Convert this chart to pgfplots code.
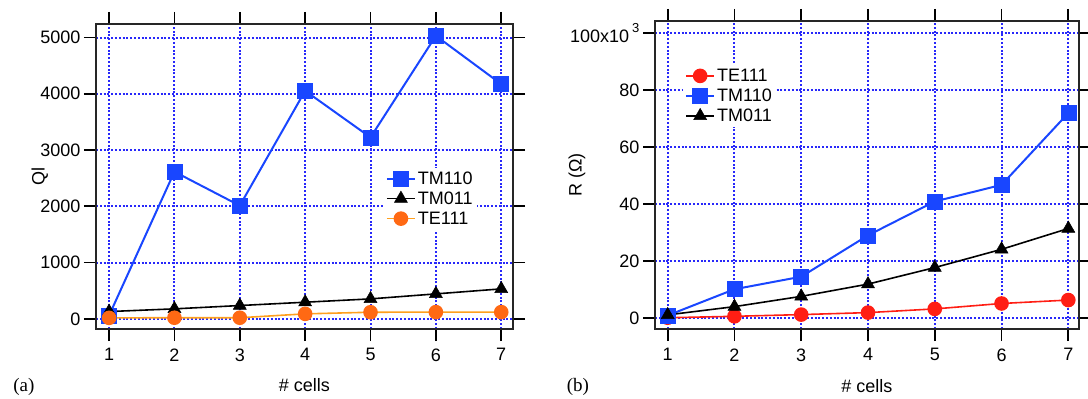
\documentclass[border=0pt]{standalone}
\usepackage{pgfplots}
\pgfplotsset{compat=1.18}
\usepackage{fontspec}
\setmainfont{Liberation Sans}
\newfontfamily\seriffont{Liberation Serif}

\definecolor{tmblue}{RGB}{25,70,255}
\definecolor{gridblue}{RGB}{40,40,250}
\definecolor{teorange}{RGB}{255,105,20}
\definecolor{teline}{RGB}{255,160,30}
\definecolor{tered}{RGB}{255,30,20}

\pgfplotsset{
  cellplot/.style={
    scale only axis,
    anchor=south west,
    xmin=0.8, xmax=7.18,
    xtick={1,...,7},
    xticklabels={1,2,3,4,5,6,7},
    scaled ticks=false,
    tick align=outside,
    xtick pos=both, ytick pos=both,
    major tick length=12pt,
    tick style={line width=1.8pt, black},
    axis line style={line width=1.4pt, black!85},
    grid=major,
    major grid style={gridblue, line width=2pt, dash pattern=on 2pt off 1.8pt},
    ticklabel style={font=\fontsize{18}{20}\selectfont},
    xticklabel style={yshift=-4pt},
    label style={font=\fontsize{18}{20}\selectfont},
    xlabel={\# cells},
    xlabel style={at={(axis description cs:0.5,-0.185)}, anchor=center},
    legend cell align=left,
    legend style={draw=none, fill=white, inner sep=2pt, row sep=2pt,
      font=\fontsize{18}{20}\selectfont,
      /tikz/every even column/.append style={column sep=5pt}},
    legend image code/.code={
      \draw[mark repeat=2, mark phase=2, #1]
        plot coordinates {(0pt,0pt) (14pt,0pt) (28pt,0pt)};},
    clip=false,
  },
  tm110/.style={tmblue, line width=2pt, mark=square*, mark size=7.5pt,
    mark options={solid, fill=tmblue, draw=tmblue, line width=0.5pt}},
  tm011/.style={black, line width=1.6pt, mark=triangle*, mark size=7.5pt,
    mark options={solid, fill=black, line width=0.5pt}},
}

\begin{document}
\begin{tikzpicture}
\path[use as bounding box] (0pt,0pt) rectangle (1088pt,399pt);

% (a) loaded quality factor
\begin{axis}[cellplot,
  at={(96pt,70pt)},
  width=417pt, height=305pt,
  ymin=-180, ymax=5240,
  ytick={0,1000,2000,3000,4000,5000},
  yticklabels={0,1000,2000,3000,4000,5000},
  ylabel={Ql},
  ylabel style={at={(axis description cs:-0.135,0.5)}, anchor=center},
  legend style={at={(axis description cs:0.69,0.53)}, anchor=north west},
]
\addplot[tm110] coordinates {(1,60)(2,2615)(3,2012)(4,4053)(5,3225)(6,5030)(7,4172)};
\addlegendentry{TM110}
\addplot[tm011] coordinates {(1,130)(2,178)(3,237)(4,296)(5,355)(6,444)(7,533)};
\addlegendentry{TM011}
\addplot[teline, line width=1.6pt, mark=*, mark size=6.5pt,
  mark options={fill=teorange, draw=teorange}]
  coordinates {(1,18)(2,20)(3,20)(4,89)(5,118)(6,120)(7,120)};
\addlegendentry{TE111}
\node[font=\seriffont\fontsize{19}{21}\selectfont] at (axis description cs:-0.173,-0.19) {(a)};
\end{axis}

% (b) shunt impedance
\begin{axis}[cellplot,
  at={(655pt,70pt)},
  width=424pt, height=308pt,
  xmin=0.81, xmax=7.16,
  ymin=-3.75, ymax=104.3,
  ytick={0,20,40,60,80,100},
  yticklabels={0,20,40,60,80,{100x10\,\raisebox{1.1ex}{\fontsize{13}{15}\selectfont 3}}},
  ylabel={R (Ω)},
  ylabel style={at={(axis description cs:-0.184,0.5)}, anchor=center},
  legend style={at={(axis description cs:0.066,0.858)}, anchor=north west},
]
\addplot[tered, line width=1.6pt, mark=*, mark size=6.5pt,
  mark options={fill=tered, draw=tered}]
  coordinates {(1,0.2)(2,0.7)(3,1.3)(4,2)(5,3.3)(6,5.2)(7,6.4)};
\addlegendentry{TE111}
\addplot[tm110] coordinates {(1,1)(2,10.2)(3,14.6)(4,29.1)(5,41)(6,46.8)(7,72)};
\addlegendentry{TM110}
\addplot[tm011] coordinates {(1,1.2)(2,4.1)(3,7.7)(4,12)(5,17.8)(6,24.2)(7,31.5)};
\addlegendentry{TM011}
\node[font=\seriffont\fontsize{19}{21}\selectfont] at (axis description cs:-0.182,-0.188) {(b)};
\end{axis}
\end{tikzpicture}
\end{document}
